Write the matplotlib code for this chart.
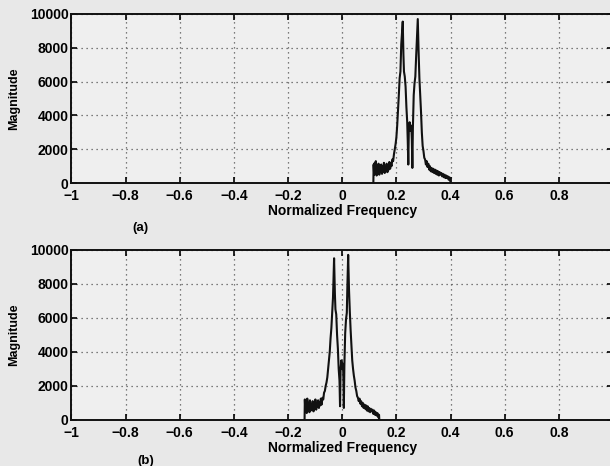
import matplotlib
matplotlib.use('Agg')
import matplotlib.pyplot as plt

# spectrum (a): normalized frequency / magnitude
freq_a = [0.115, 0.116, 0.118, 0.120, 0.122, 0.124, 0.127, 0.129, 0.132, 0.134,
          0.137, 0.139, 0.142, 0.144, 0.147, 0.149, 0.152, 0.154, 0.157, 0.159,
          0.162, 0.164, 0.167, 0.169, 0.172, 0.174, 0.177, 0.179, 0.182, 0.185,
          0.188, 0.191, 0.194, 0.197, 0.200, 0.203, 0.206, 0.209, 0.212, 0.215,
          0.218, 0.2235, 0.226, 0.228, 0.231, 0.234, 0.237, 0.240, 0.242, 0.244,
          0.246, 0.249, 0.252, 0.255, 0.257, 0.259, 0.261, 0.264, 0.267, 0.270,
          0.273, 0.279, 0.282, 0.285, 0.288, 0.291, 0.294, 0.297, 0.300, 0.303,
          0.306, 0.309, 0.312, 0.315, 0.318, 0.321, 0.324, 0.327, 0.330, 0.333,
          0.336, 0.339, 0.342, 0.345, 0.348, 0.351, 0.354, 0.357, 0.360, 0.363,
          0.366, 0.369, 0.372, 0.375, 0.378, 0.381, 0.384, 0.387, 0.390, 0.393,
          0.396, 0.399, 0.400]
mag_a = [0, 1100, 500, 1200, 600, 1300, 450, 1000, 600, 1150,
         500, 900, 650, 1100, 550, 1000, 700, 1200, 600, 950,
         700, 1150, 650, 1000, 800, 1250, 850, 1200, 1000, 1400,
         1300, 1700, 2000, 2300, 2700, 3400, 4300, 5200, 6200, 6600,
         8200, 9550, 7600, 6600, 6300, 5700, 4500, 3600, 2500, 1100,
         3200, 3600, 3100, 3400, 2600, 900, 3300, 5200, 5900, 6300,
         7500, 9700, 7800, 6200, 5200, 4200, 3000, 2200, 1900, 1500,
         1400, 1100, 1300, 950, 1150, 800, 1000, 700, 900, 650,
         850, 600, 800, 550, 750, 500, 700, 450, 650, 500,
         600, 400, 550, 350, 500, 300, 450, 300, 400, 200,
         350, 150, 0]

# spectrum (b)
freq_b = [-0.139, -0.138, -0.136, -0.134, -0.131, -0.129, -0.126, -0.124, -0.121, -0.119,
          -0.116, -0.114, -0.111, -0.109, -0.106, -0.104, -0.101, -0.099, -0.096, -0.094,
          -0.091, -0.089, -0.086, -0.084, -0.081, -0.079, -0.076, -0.073, -0.070, -0.067,
          -0.064, -0.061, -0.058, -0.055, -0.052, -0.049, -0.046, -0.043, -0.040, -0.037,
          -0.034, -0.030, -0.027, -0.025, -0.022, -0.019, -0.016, -0.013, -0.010, -0.008,
          -0.006, -0.003, 0.000, 0.003, 0.005, 0.006, 0.008, 0.011, 0.014, 0.017,
          0.019, 0.022, 0.025, 0.028, 0.031, 0.034, 0.037, 0.040, 0.043, 0.046,
          0.049, 0.052, 0.055, 0.058, 0.061, 0.064, 0.067, 0.070, 0.073, 0.076,
          0.079, 0.082, 0.085, 0.088, 0.091, 0.094, 0.097, 0.100, 0.103, 0.106,
          0.109, 0.112, 0.115, 0.118, 0.121, 0.124, 0.127, 0.130, 0.133, 0.136,
          0.137]
mag_b = [0, 1200, 500, 1100, 400, 1250, 600, 1000, 450, 1150,
         550, 900, 650, 1100, 500, 1000, 700, 1200, 600, 950,
         750, 1150, 700, 1050, 850, 1250, 900, 1300, 1200, 1600,
         1700, 2000, 2200, 2500, 3000, 3500, 4000, 4800, 5400, 6300,
         7200, 9500, 7400, 6500, 6200, 5000, 4200, 3000, 2300, 800,
         3000, 3500, 3000, 3300, 2000, 700, 3200, 5100, 5900, 6300,
         7800, 9700, 7700, 6400, 5300, 4400, 3500, 3000, 2600, 2300,
         1900, 1700, 1400, 1300, 1100, 1250, 950, 1100, 800, 1000,
         700, 900, 650, 850, 550, 800, 500, 700, 450, 650,
         500, 600, 350, 550, 300, 450, 250, 400, 150, 300,
         0]

# the "1" at the right end is cut off in the scan, so it is left blank
xticks = [-1, -0.8, -0.6, -0.4, -0.2, 0, 0.2, 0.4, 0.6, 0.8, 1]
xticklabels = ['\u22121', '\u22120.8', '\u22120.6', '\u22120.4', '\u22120.2',
               '0', '0.2', '0.4', '0.6', '0.8', '']
yticks = [0, 2000, 4000, 6000, 8000, 10000]

plt.rcParams['font.family'] = ['Liberation Sans', 'DejaVu Sans']

fig = plt.figure(figsize=(6.1, 4.66), dpi=100, facecolor='#e8e8e8')


def spectrum_panel(rect, freq, mag, tag, tag_xy):
    ax = fig.add_axes(rect, facecolor='#efefef')
    ax.plot(freq, mag, color='#111111', linewidth=1.5)
    ax.set_xlim(-1, 1)
    ax.set_ylim(0, 10000)
    ax.set_xticks(xticks)
    ax.set_xticklabels(xticklabels)
    ax.set_yticks(yticks)
    ax.grid(True, linestyle=(0, (1, 3)), color='#555555', linewidth=0.9)
    ax.tick_params(direction='in', top=True, right=True, length=4, width=1.2,
                   labelsize=10)
    ax.tick_params(axis='x', pad=4.5)
    ax.tick_params(axis='y', pad=2)
    for lbl in ax.get_xticklabels() + ax.get_yticklabels():
        lbl.set_fontweight('bold')
    for sp in ax.spines.values():
        sp.set_linewidth(1.4)
        sp.set_color('#111111')
    ax.set_xlabel('Normalized Frequency', fontsize=10, fontweight='bold', labelpad=0.5)
    ax.set_ylabel('Magnitude', fontsize=9, fontweight='bold', labelpad=7)
    fig.text(tag_xy[0], tag_xy[1], tag, fontsize=9.5, fontweight='bold',
             ha='center', va='center')
    return ax


spectrum_panel([0.117, 0.607, 0.888, 0.363], freq_a, mag_a, '(a)', (140 / 610, 1 - 228 / 466))
spectrum_panel([0.117, 0.099, 0.888, 0.365], freq_b, mag_b, '(b)', (146 / 610, 1 - 461 / 466))

fig.savefig('out.png', dpi=100, facecolor=fig.get_facecolor())
